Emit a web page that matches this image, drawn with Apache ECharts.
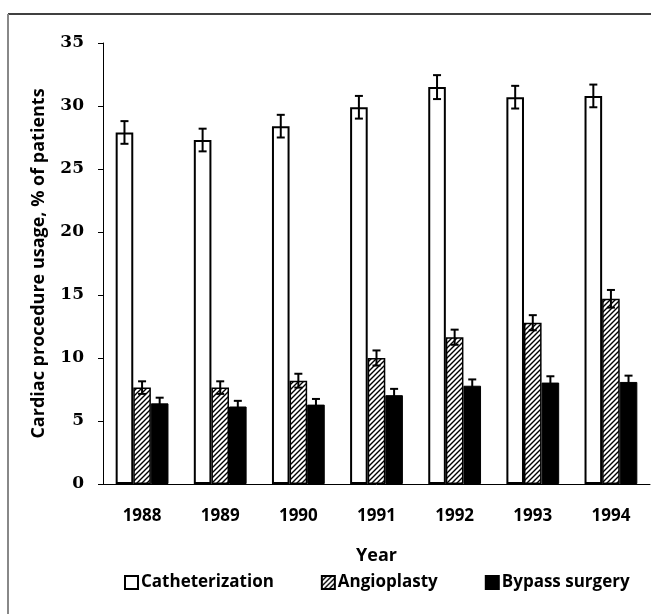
<!DOCTYPE html>
<html>
<head>
<meta charset="utf-8">
<script src="https://cdn.jsdelivr.net/npm/echarts@6/dist/echarts.min.js"></script>
<style>html,body{margin:0;padding:0;background:#fff}#c{width:651px;height:614px}</style>
</head>
<body>
<div id="c"></div>
<script>
const years = ['1988','1989','1990','1991','1992','1993','1994'];
const seriesNames = ['Catheterization','Angioplasty','Bypass surgery'];
const cathValues = [27.9, 27.3, 28.4, 29.9, 31.5, 30.7, 30.8];
const cathErrors = [0.9, 0.9, 0.9, 0.9, 0.95, 0.9, 0.9];
const angioValues = [7.65, 7.65, 8.2, 10.0, 11.65, 12.8, 14.7];
const angioErrors = [0.5, 0.5, 0.55, 0.6, 0.6, 0.6, 0.7];
const bypassValues = [6.4, 6.15, 6.3, 7.05, 7.8, 8.05, 8.1];
const bypassErrors = [0.45, 0.45, 0.45, 0.5, 0.5, 0.5, 0.5];
const yTicks = {min: 0, max: 35, interval: 5};

const BAR_W = 17.6;
const sansFont = 'Open Sans';

function hatch() {
  const s = 5;
  const cv = document.createElement('canvas');
  cv.width = s; cv.height = s;
  const ctx = cv.getContext('2d');
  ctx.fillStyle = '#fff';
  ctx.fillRect(0, 0, s, s);
  ctx.strokeStyle = '#000';
  ctx.lineWidth = 1.4;
  ctx.beginPath();
  ctx.moveTo(-1, s + 1); ctx.lineTo(s + 1, -1);
  ctx.moveTo(-1, 1); ctx.lineTo(1, -1);
  ctx.moveTo(s - 1, s + 1); ctx.lineTo(s + 1, s - 1);
  ctx.stroke();
  return cv;
}
const hatchPattern = {image: hatch(), repeat: 'repeat'};

function errSeries(values, errors, offset) {
  return {
    type: 'custom',
    silent: true,
    z: 10,
    data: values.map((v, i) => [i, v, errors[i]]),
    renderItem: function (params, api) {
      const i = api.value(0), v = api.value(1), e = api.value(2);
      const x = api.coord([i, v])[0] + offset;
      const yt = api.coord([i, v + e])[1];
      const yb = api.coord([i, v - e])[1];
      const cap = 4;
      const st = {stroke: '#000', lineWidth: 2};
      return {
        type: 'group',
        children: [
          {type: 'line', shape: {x1: x, y1: yt, x2: x, y2: yb}, style: st},
          {type: 'line', shape: {x1: x - cap, y1: yt, x2: x + cap, y2: yt}, style: st},
          {type: 'line', shape: {x1: x - cap, y1: yb, x2: x + cap, y2: yb}, style: st}
        ]
      };
    }
  };
}

const chart = echarts.init(document.getElementById('c'), null, {renderer: 'canvas'});
chart.setOption({
  animation: false,
  backgroundColor: '#fff',
  grid: {left: 103, top: 43, width: 547, height: 441, containLabel: false},
  legend: {
    data: seriesNames,
    left: 119,
    top: 569,
    itemWidth: 13,
    itemHeight: 13,
    itemGap: 47,
    icon: 'rect',
    textStyle: {fontFamily: sansFont, fontWeight: 'bold', fontSize: 17, color: '#000', padding: [0, 0, 0, -2]}
  },
  graphic: [
    {type: 'line', shape: {x1: 8, y1: 14, x2: 651, y2: 14}, style: {stroke: '#000', lineWidth: 1.5}},
    {type: 'line', shape: {x1: 8, y1: 14, x2: 8, y2: 614}, style: {stroke: '#888', lineWidth: 2}}
  ],
  xAxis: {
    type: 'category',
    data: years,
    name: 'Year',
    nameLocation: 'middle',
    nameGap: 63,
    nameTextStyle: {fontFamily: sansFont, fontWeight: 'bold', fontSize: 18, color: '#000'},
    axisLine: {lineStyle: {color: '#000', width: 1}},
    axisTick: {length: 5, lineStyle: {color: '#000'}},
    axisLabel: {fontFamily: sansFont, fontWeight: 'bold', fontSize: 17, color: '#000', margin: 24}
  },
  yAxis: {
    type: 'value',
    min: yTicks.min, max: yTicks.max, interval: yTicks.interval,
    name: 'Cardiac procedure usage, % of patients',
    nameLocation: 'middle',
    nameGap: 55,
    nameTextStyle: {fontFamily: sansFont, fontWeight: 'bold', fontSize: 18, color: '#000'},
    axisLine: {show: true, lineStyle: {color: '#000', width: 1}},
    axisTick: {show: true, length: 5, lineStyle: {color: '#000'}},
    splitLine: {show: false},
    axisLabel: {fontFamily: 'DejaVu Serif', fontWeight: 'bold', fontSize: 17, color: '#000', margin: 19}
  },
  series: [
    {name: seriesNames[0], type: 'bar', data: cathValues, barWidth: BAR_W, barGap: '0%',
     itemStyle: {color: '#fff', borderColor: '#000', borderWidth: 2}},
    {name: seriesNames[1], type: 'bar', data: angioValues, barWidth: BAR_W, barGap: '0%',
     itemStyle: {color: hatchPattern, borderColor: '#000', borderWidth: 1.5}},
    {name: seriesNames[2], type: 'bar', data: bypassValues, barWidth: BAR_W, barGap: '0%',
     itemStyle: {color: '#000', borderColor: '#000', borderWidth: 1}},
    errSeries(cathValues, cathErrors, -BAR_W),
    errSeries(angioValues, angioErrors, 0),
    errSeries(bypassValues, bypassErrors, BAR_W)
  ]
});
</script>
</body>
</html>
